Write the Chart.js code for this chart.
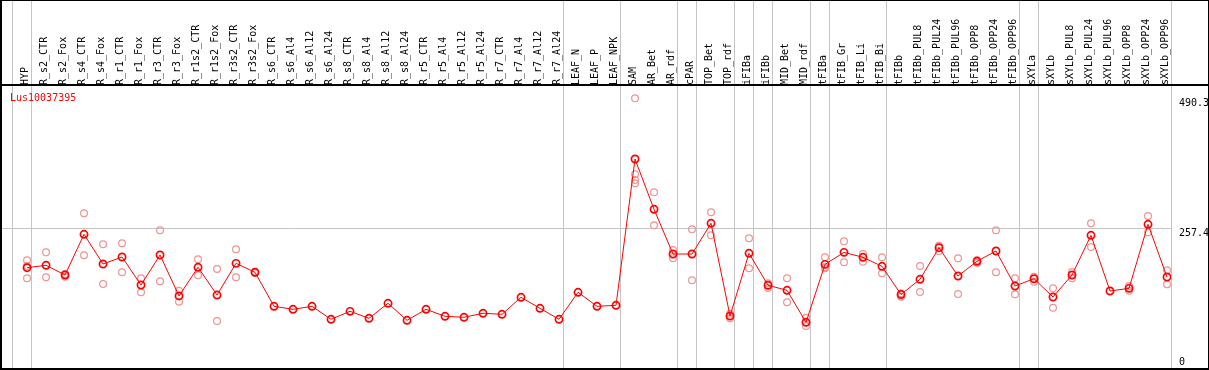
<!DOCTYPE html>
<html lang="en">
<head>
<meta charset="UTF-8">
<title>Lus10037395</title>
<script src="https://cdn.jsdelivr.net/npm/chart.js"></script>
<style>
  body { margin: 0; background: #fff; }
</style>
</head>
<body>
<canvas id="chart" width="1209" height="370"></canvas>
<script>
const geneName = 'Lus10037395';

const samples = [
  'HYP',
  'R_s2_CTR', 'R_s2_Fox', 'R_s4_CTR', 'R_s4_Fox', 'R_r1_CTR', 'R_r1_Fox',
  'R_r3_CTR', 'R_r3_Fox', 'R_r1s2_CTR', 'R_r1s2_Fox', 'R_r3s2_CTR', 'R_r3s2_Fox',
  'R_s6_CTR', 'R_s6_Al4', 'R_s6_Al12', 'R_s6_Al24', 'R_s8_CTR', 'R_s8_Al4', 'R_s8_Al12', 'R_s8_Al24',
  'R_r5_CTR', 'R_r5_Al4', 'R_r5_Al12', 'R_r5_Al24', 'R_r7_CTR', 'R_r7_Al4', 'R_r7_Al12', 'R_r7_Al24',
  'LEAF_N', 'LEAF_P', 'LEAF_NPK',
  'SAM', 'AR_Bet', 'AR_rdf', 'cPAR', 'TOP_Bet', 'TOP_rdf', 'iFIBa', 'iFIBb', 'MID_Bet', 'MID_rdf',
  'tFIBa', 'tFIB_Gr', 'tFIB_Li', 'tFIB_Bi', 'tFIBb',
  'tFIBb_PUL8', 'tFIBb_PUL24', 'tFIBb_PUL96', 'tFIBb_OPP8', 'tFIBb_OPP24', 'tFIBb_OPP96',
  'sXYLa', 'sXYLb',
  'sXYLb_PUL8', 'sXYLb_PUL24', 'sXYLb_PUL96', 'sXYLb_OPP8', 'sXYLb_OPP24', 'sXYLb_OPP96'
];

// mean expression per sample (red line)
const means = [
  186.9,
  191.2, 173.8, 246.7, 193.5, 206.0, 155.9,
  209.6, 136.2, 187.6, 137.9, 194.7, 178.6,
  117.7, 112.3, 117.7, 94.4, 108.7, 96.2, 123.1, 92.6,
  112.3, 99.8, 98.0, 105.2, 103.4, 133.8, 114.1, 94.4,
  142.8, 117.7, 119.5,
  381.6, 291.5, 211.4, 211.4, 266.4, 100.3, 212.7, 155.3, 146.4, 89.0,
  192.9, 214.4, 205.5, 189.4, 138.8,
  166.1, 222.7, 172.0, 198.3, 216.8, 154.1,
  167.1, 134.4,
  173.8, 244.9, 145.1, 149.9, 264.6, 170.2
];

// individual replicates per sample (pink circles)
const replicates = [
  [200.1, 189.9, 167.9],
  [214.4, 169.7], [170.7, 175.6], [284.3, 209.1], [228.8, 157.7], [230.6, 178.6], [167.9, 142.8],
  [253.9, 162.5], [145.7, 125.9], [201.9, 173.2], [184.5, 91.4], [219.8, 169.7], [179.7, 177.4],
  [], [], [], [], [], [], [], [],
  [], [], [], [], [], [], [], [],
  [], [], [],
  [490.3, 354.2, 344.0, 338.1], [321.9, 262.8], [218.6, 203.7], [255.6, 164.3], [286.1, 244.9],
  [104.4, 96.2], [239.5, 185.8], [158.9, 150.5], [167.9, 124.9], [97.3, 82.4],
  [205.5, 185.8, 187.6], [234.1, 196.5], [211.4, 197.6], [205.5, 176.8], [141.0, 134.9],
  [189.9, 143.3], [226.3, 216.8], [203.7, 139.7], [200.6, 195.3], [253.9, 178.6], [167.9, 139.2],
  [170.7, 161.8], [149.9, 115.2],
  [179.2, 167.9], [266.4, 223.9], [], [154.1, 145.7], [279.5, 250.3], [182.2, 157.1]
];

const yTicks = [0, 257.4, 490.3];

// sample index after which a grey separator is drawn
const groupBreaks = [-1, 0, 28, 31, 34, 35, 37, 38, 39, 41, 42, 45, 52, 53, 60];

const monoFont = { family: 'DejaVu Sans Mono', size: 10 };

const meanPoints = means.map((v, i) => ({ x: i, y: v }));
const repPoints = [];
replicates.forEach((reps, i) => reps.forEach(v => repPoints.push({ x: i, y: v })));

const framePlugin = {
  id: 'frame',
  beforeDatasetsDraw(chart) {
    const { ctx, chartArea, scales } = chart;
    const x = scales.x;
    const step = x.getPixelForValue(1) - x.getPixelForValue(0);
    ctx.save();
    ctx.strokeStyle = '#c4c4c4';
    ctx.lineWidth = 1;
    groupBreaks.forEach(i => {
      const px = Math.round(x.getPixelForValue(i) + step * 0.22) + 0.5;
      ctx.beginPath();
      ctx.moveTo(px, 0);
      ctx.lineTo(px, chartArea.bottom);
      ctx.stroke();
    });
    ctx.restore();
  },
  afterDraw(chart) {
    const { ctx, chartArea, scales, width, height } = chart;
    ctx.save();
    ctx.strokeStyle = '#000';
    ctx.lineWidth = 2;
    ctx.strokeRect(1, 0, width - 1, height - 1);
    ctx.beginPath();
    ctx.moveTo(0, chartArea.top);
    ctx.lineTo(width, chartArea.top);
    ctx.stroke();

    ctx.font = '10px "DejaVu Sans Mono"';
    ctx.fillStyle = '#ff0000';
    ctx.textBaseline = 'top';
    ctx.textAlign = 'left';
    ctx.fillText(geneName, chartArea.left + 9, chartArea.top + 8);

    // right-hand value labels, kept inside the frame
    ctx.fillStyle = '#000';
    ctx.textBaseline = 'middle';
    yTicks.forEach(v => {
      let py = scales.y.getPixelForValue(v) + 5;
      py = Math.min(py, chartArea.bottom - 7);
      ctx.fillText(String(v), chartArea.right + 8, py);
    });
    ctx.restore();
  }
};

new Chart(document.getElementById('chart'), {
  data: {
    datasets: [
      {
        type: 'line',
        label: 'mean',
        data: meanPoints,
        borderColor: '#ff0000',
        borderWidth: 1,
        pointRadius: 3.6,
        pointBorderWidth: 1.7,
        pointBorderColor: '#ff0000',
        pointBackgroundColor: 'rgba(0,0,0,0)',
        order: 1
      },
      {
        type: 'scatter',
        label: 'replicates',
        data: repPoints,
        pointRadius: 3.4,
        borderWidth: 1.2,
        pointBorderColor: '#f09494',
        pointBackgroundColor: 'rgba(0,0,0,0)',
        order: 2
      }
    ]
  },
  options: {
    responsive: false,
    animation: false,
    layout: { autoPadding: false, padding: { left: 1, right: 0, top: 0, bottom: 1 } },
    plugins: {
      legend: { display: false },
      tooltip: { enabled: false }
    },
    scales: {
      x: {
        type: 'linear',
        position: 'top',
        min: -1.37,
        max: 60.21,
        afterBuildTicks: s => { s.ticks = samples.map((_, i) => ({ value: i })); },
        afterFit: s => { s.height = 85; s.paddingLeft = 0; s.paddingRight = 0; },
        grid: { display: false, drawTicks: false },
        border: { display: false },
        ticks: {
          autoSkip: false,
          minRotation: 90,
          maxRotation: 90,
          padding: 0,
          labelOffset: 10.5,
          color: '#000',
          font: monoFont,
          callback: v => samples[v]
        }
      },
      y: {
        position: 'right',
        min: 5.37,
        max: 514.2,
        afterBuildTicks: s => { s.ticks = yTicks.map(v => ({ value: v })); },
        afterFit: s => { s.width = 38; s.paddingTop = 0; s.paddingBottom = 0; },
        grid: {
          drawTicks: false,
          color: c => (c.tick && c.tick.value === 257.4) ? '#c4c4c4' : 'rgba(0,0,0,0)'
        },
        border: { display: false },
        ticks: { display: false }
      }
    }
  },
  plugins: [framePlugin]
});
</script>
</body>
</html>
